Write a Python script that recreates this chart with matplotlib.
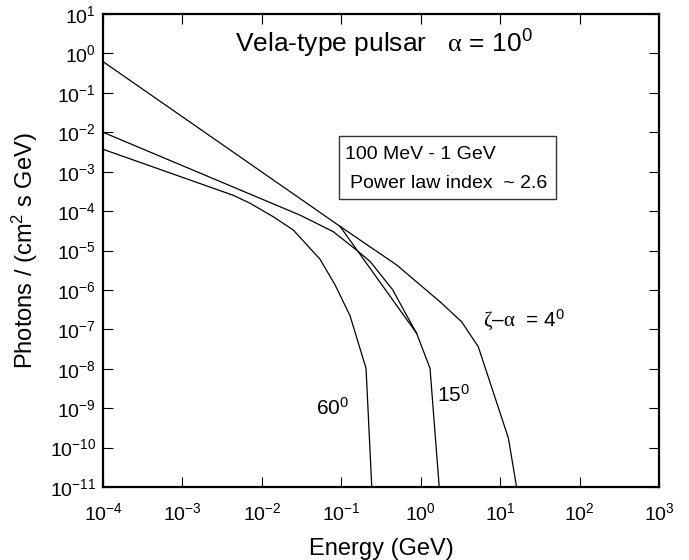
import matplotlib
matplotlib.use("Agg")
import matplotlib.pyplot as plt
from matplotlib.patches import Rectangle

plt.rcParams['font.family'] = ['Liberation Sans', 'DejaVu Sans']
plt.rcParams['mathtext.fontset'] = 'custom'
plt.rcParams['mathtext.rm'] = 'Liberation Serif'
plt.rcParams['mathtext.sf'] = 'Liberation Sans'
plt.rcParams['mathtext.it'] = 'Liberation Sans:italic'
plt.rcParams['mathtext.bf'] = 'Liberation Sans:bold'

# ---- data (energy in GeV, flux in photons / (cm^2 s GeV)) ----
energy_4deg = [1.0e-4, 0.0964, 0.498, 1.75, 3.28, 5.31, 12.7, 16.1]
flux_4deg = [0.62, 4.1e-5, 4.3e-6, 5.0e-7, 1.55e-7, 3.6e-8, 1.74e-10, 1.0e-11]

energy_15deg = [1.0e-4, 0.0302, 0.0793, 0.156, 0.232, 0.445, 0.64, 0.889, 1.31, 1.71]
flux_15deg = [1.0e-2, 7.9e-5, 3.0e-5, 1.02e-5, 5.2e-6, 1.0e-6, 2.6e-7, 7.9e-8, 1.02e-8, 1.0e-11]

energy_60deg = [1.0e-4, 4.4e-3, 7.10e-3, 1.39e-2, 2.49e-2, 5.40e-2, 8.34e-2, 0.129, 0.205, 0.242]
flux_60deg = [3.7e-3, 2.5e-4, 1.58e-4, 7.2e-5, 3.3e-5, 6.0e-6, 1.35e-6, 2.2e-7, 1.02e-8, 1.0e-11]

energy_powerlaw = [0.0964, 0.889]
flux_powerlaw = [4.1e-5, 7.9e-8]

xticks = [1e-4, 1e-3, 1e-2, 1e-1, 1e0, 1e1, 1e2, 1e3]
xtick_labels = [r'$\mathsf{10^{-4}}$', r'$\mathsf{10^{-3}}$', r'$\mathsf{10^{-2}}$',
                r'$\mathsf{10^{-1}}$', r'$\mathsf{10^{0}}$', r'$\mathsf{10^{1}}$',
                r'$\mathsf{10^{2}}$', r'$\mathsf{10^{3}}$']
yticks = [1e1, 1e0, 1e-1, 1e-2, 1e-3, 1e-4, 1e-5, 1e-6, 1e-7, 1e-8, 1e-9, 1e-10, 1e-11]
ytick_labels = [r'$\mathsf{10^{1}}$', r'$\mathsf{10^{0}}$', r'$\mathsf{10^{-1}}$',
                r'$\mathsf{10^{-2}}$', r'$\mathsf{10^{-3}}$', r'$\mathsf{10^{-4}}$',
                r'$\mathsf{10^{-5}}$', r'$\mathsf{10^{-6}}$', r'$\mathsf{10^{-7}}$',
                r'$\mathsf{10^{-8}}$', r'$\mathsf{10^{-9}}$', r'$\mathsf{10^{-10}}$',
                r'$\mathsf{10^{-11}}$']

# ---- figure ----
fig = plt.figure(figsize=(6.89, 5.60), dpi=100)
ax = fig.add_axes([103/689, 1-487/560, 556/689, 473/560])

lw = 0.9
ax.plot(energy_4deg, flux_4deg, color='black', lw=lw)
ax.plot(energy_15deg, flux_15deg, color='black', lw=lw)
ax.plot(energy_60deg, flux_60deg, color='black', lw=lw)
ax.plot(energy_powerlaw, flux_powerlaw, color='black', lw=lw)

ax.set_xscale('log')
ax.set_yscale('log')
ax.set_xlim(1e-4, 1e3)
ax.set_ylim(1e-11, 1e1)

ax.set_xticks(xticks)
ax.set_xticklabels(xtick_labels)
ax.set_yticks(yticks)
ax.set_yticklabels(ytick_labels)
ax.minorticks_off()
ax.tick_params(axis='both', which='major', direction='in', length=7.2, width=0.8,
               top=True, right=True, labelsize=14, color='black')
ax.tick_params(axis='x', pad=11)
ax.tick_params(axis='y', pad=5)
for sp in ax.spines.values():
    sp.set_linewidth(1.6)

ax.set_xlabel('Energy (GeV)', fontsize=17)
ax.xaxis.label.set_verticalalignment('baseline')
ax.xaxis.set_label_coords(0.5, (487-555)/473)
ax.set_ylabel(r'Photons / (cm$^{\mathsf{2}}$ s GeV)', fontsize=17)
ax.yaxis.label.set_verticalalignment('baseline')
ax.yaxis.set_label_coords((33-103)/556, 0.5)

# title inside plot
fig.text(235/689, 1-53/560, r'Vela-type pulsar   $\mathrm{\alpha}$ = 10$^{\mathsf{0}}$',
         fontsize=19, ha='left', va='baseline')

# box
fig.patches.append(Rectangle((339/689, 1-199/560), 217/689, 63/560,
                             transform=fig.transFigure, fill=False,
                             edgecolor='#333333', lw=1.0))
fig.text(345/689, 1-159/560, '100 MeV - 1 GeV', fontsize=14, ha='left', va='baseline')
fig.text(350/689, 1-188/560, 'Power law index  ~ 2.6', fontsize=14, ha='left', va='baseline')

# curve labels
ax.text((316-103)/556, (487-415)/473, r'60$^{\mathsf{0}}$', transform=ax.transAxes,
        fontsize=15, ha='left', va='baseline')
ax.text((437-103)/556, (487-402)/473, r'15$^{\mathsf{0}}$', transform=ax.transAxes,
        fontsize=15, ha='left', va='baseline')
ax.text((483-103)/556, (487-327)/473, r'$\mathrm{\zeta}$–$\mathrm{\alpha}$  = 4$^{\mathsf{0}}$',
        transform=ax.transAxes, fontsize=15, ha='left', va='baseline')

fig.savefig('out.png', dpi=100)
